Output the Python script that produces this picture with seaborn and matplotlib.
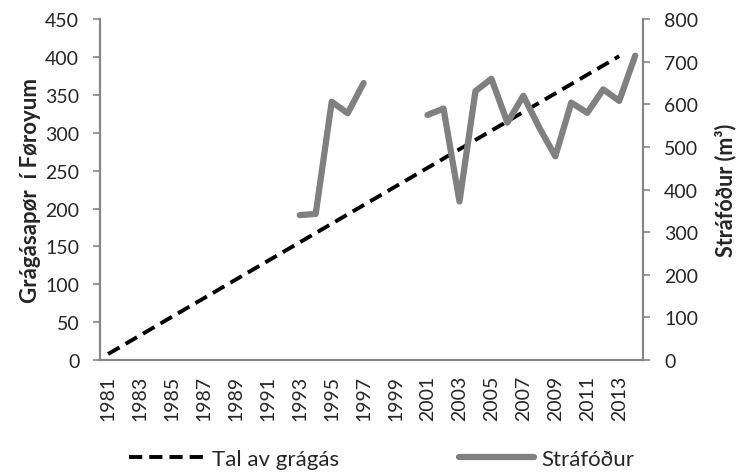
import numpy as np
import pandas as pd
import matplotlib
matplotlib.use('Agg')
import matplotlib.pyplot as plt
from matplotlib.ticker import FixedLocator
import seaborn as sns
sns.set_style('white')
plt.rcParams['font.family'] = ['Lato', 'DejaVu Sans']

# Tal av grágás (left axis) - straight dashed line
tal_years = [1981, 2013]
tal_values = [8, 401]

# Stráfóður (right axis, m3), gap 1998-2000
stra_years = list(range(1993, 2015))
stra_values = [340, 343, 606, 579, 650, np.nan, np.nan, np.nan,
               575, 590, 372, 631, 660, 557, 620, 545, 478, 604,
               580, 635, 608, 714]

all_years = list(range(1981, 2015))

df_tal = pd.DataFrame({'year': tal_years, 'value': tal_values})
df_stra = pd.DataFrame({'year': stra_years, 'value': stra_values})
df_stra['seg'] = df_stra['value'].isna().cumsum()
df_stra = df_stra.dropna()

grey = '#868686'
dash = (0, (3.4, 1.8))
fig, ax = plt.subplots(figsize=(7.47, 4.77), dpi=100)
fig.subplots_adjust(left=0.134, right=0.861, top=0.958, bottom=0.243)
ax2 = ax.twinx()

sns.lineplot(data=df_tal, x='year', y='value', ax=ax, color='black',
             linewidth=2.8, linestyle=dash, legend=False)
sns.lineplot(data=df_stra, x='year', y='value', units='seg', estimator=None,
             ax=ax2, color='#808080', linewidth=4.5, legend=False)

ax.set_xlim(1980.5, 2014.5)
ax.set_ylim(0, 450)
ax2.set_ylim(0, 800)
ax.set_yticks(range(0, 451, 50))
ax2.set_yticks(range(0, 801, 100))

ax.set_xticks(all_years[::2])
ax.set_xticklabels([str(y) for y in all_years[::2]], rotation=90)
ax.xaxis.set_minor_locator(FixedLocator(np.arange(1980.5, 2015, 1)))
ax.tick_params(axis='x', which='major', length=0, pad=10.5, labelsize=14)
ax.tick_params(axis='x', which='minor', length=5, color=grey, width=1.2)
ax.tick_params(axis='y', length=5, color=grey, width=1.2, labelsize=14, pad=10)
ax2.tick_params(axis='y', length=5, color=grey, width=1.2, labelsize=14, pad=10)

for a in (ax, ax2):
    a.spines['top'].set_visible(False)
    for s in ('left', 'right', 'bottom'):
        a.spines[s].set_color(grey)
        a.spines[s].set_linewidth(1.5)
    a.set_xlabel('')

ax.set_ylabel('Grágásapør  í Føroyum', fontsize=16, fontweight='bold', labelpad=3)
ax2.set_ylabel('Stráfóður (m³)', fontsize=15.5, fontweight='bold', labelpad=12)

handles = [plt.Line2D([], [], color='black', linewidth=2.8, linestyle=dash),
           plt.Line2D([], [], color='#808080', linewidth=4.5)]
fig.legend(handles, ['Tal av grágás', 'Stráfóður'], loc='center',
           bbox_to_anchor=(0.511, 0.036), ncol=2, frameon=False, fontsize=16,
           handlelength=3.4, columnspacing=5.4, handletextpad=0.3,
           borderpad=0, borderaxespad=0)

fig.savefig('out.png', dpi=100)
